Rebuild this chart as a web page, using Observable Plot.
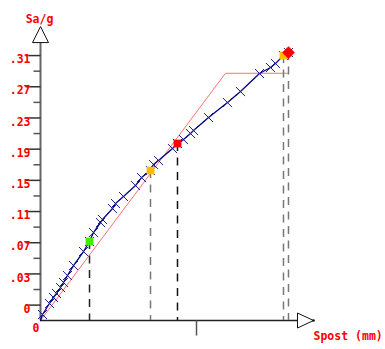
<!DOCTYPE html>
<html><head><meta charset="utf-8">
<script src="https://cdn.jsdelivr.net/npm/d3@7"></script>
<script src="https://cdn.jsdelivr.net/npm/@observablehq/plot@0.6"></script>
<style>body{margin:0;background:#fff;}</style>
</head><body><div id="chart"></div>
<script>
// capacity curve (Spost in mm, Sa/g)
const curveX = [0, 0.77, 3.46, 5.0, 6.15, 7.69, 8.85, 10.38, 12.69, 16.54, 18.85, 20.38, 23.08, 23.85, 27.69, 28.85, 31.92, 36.54, 38.85, 42.31, 43.46, 45.38, 50.77, 52.69, 55.0, 57.69, 58.85, 64.62, 71.92, 76.92, 84.23, 88.46, 90.38, 93.46, 95.38];
const curveY = [0, 0.0070, 0.0199, 0.0269, 0.0316, 0.0386, 0.0445, 0.0526, 0.0643, 0.0807, 0.0924, 0.1029, 0.1146, 0.1182, 0.1310, 0.1369, 0.1451, 0.1579, 0.1673, 0.1755, 0.1825, 0.1872, 0.2012, 0.2071, 0.2117, 0.2188, 0.2223, 0.2375, 0.2550, 0.2679, 0.2890, 0.2960, 0.3007, 0.3100, 0.3135];
// bilinear
const bilinX = [0, 71.15, 95.0];
const bilinY = [0, 0.2893, 0.2893];
// performance points
const pointX = [18.85, 42.31, 52.69, 93.46, 95.38];
const pointY = [0.0924, 0.1755, 0.2071, 0.3100, 0.3135];
const pointColor = ["#3dee00", "#ffbb00", "#ff0000", "#ffbb00", "#ff0000"];
const pointShape = ["square", "square", "square", "square", "diamond2"];
const dropColor = ["#222", "#777", "#111", "#777", "#777"];
// ticks
const yTickValues = [0.31, 0.2735, 0.237, 0.2005, 0.164, 0.1275, 0.091, 0.0545, 0.018];
const yTickLabels = [".31", ".27", ".23", ".19", ".15", ".11", ".07", ".03", "0"];
const yMinorValues = [0.29175, 0.25525, 0.21875, 0.18225, 0.14575, 0.10925, 0.07275, 0.03625];
const xTickValues = [60];
const xLabel = "Spost (mm)";
const yLabel = "Sa/g";
const originLabel = "0";

const xMax = 100, yMax = 0.3335;
const xAxisEnd = 98.85, yAxisEnd = 0.3252;

const curve = curveX.map((x, i) => ({x, y: curveY[i]}));
const bilin = bilinX.map((x, i) => ({x, y: bilinY[i]}));
const pts = pointX.map((x, i) => ({x, y: pointY[i], c: pointColor[i], s: pointShape[i], d: dropColor[i]}));

const font = {fontFamily: "DejaVu Sans Mono", fontWeight: "bold", fontSize: 11.5, fill: "#ff0000"};
const hTickLong = {draw(c) { c.moveTo(-15, 0); c.lineTo(0, 0); }};
const hTickShort = {draw(c) { c.moveTo(-7, 0); c.lineTo(0, 0); }};
const vTick = {draw(c) { c.moveTo(0, 0); c.lineTo(0, 15); }};
const upArrow = {draw(c) { c.moveTo(-8, 0); c.lineTo(8, 0); c.lineTo(0, -16); c.closePath(); }};
const rightArrow = {draw(c) { c.moveTo(0, -7.5); c.lineTo(0, 7.5); c.lineTo(16, 0); c.closePath(); }};

const chart = Plot.plot({
  width: 385, height: 349,
  marginLeft: 40, marginRight: 85, marginTop: 35, marginBottom: 29,
  x: {domain: [0, xMax], axis: null},
  y: {domain: [0, yMax], axis: null},
  style: {background: "white"},
  marks: [
    // axes
    Plot.ruleX([0], {y1: 0, y2: yAxisEnd, stroke: "#666", strokeWidth: 2}),
    Plot.ruleY([0], {x1: 0, x2: xAxisEnd, stroke: "#222", strokeWidth: 1.5}),
    Plot.dot(yTickValues, {x: () => 0, y: d => d, symbol: hTickLong, fill: "none", stroke: "#333", strokeWidth: 1.5}),
    Plot.dot(yMinorValues, {x: () => 0, y: d => d, symbol: hTickShort, fill: "none", stroke: "#555", strokeWidth: 1.5}),
    Plot.dot(xTickValues, {x: d => d, y: () => 0, symbol: vTick, fill: "none", stroke: "#555", strokeWidth: 1.5}),
    Plot.dot([yAxisEnd], {x: () => 0, y: d => d, symbol: upArrow, fill: "white", stroke: "#111", strokeWidth: 1}),
    Plot.dot([xAxisEnd], {x: d => d, y: () => 0, symbol: rightArrow, fill: "white", stroke: "#111", strokeWidth: 1}),
    Plot.dot([xAxisEnd], {x: d => d, y: () => 0, dx: 16, r: 1.3, fill: "#111"}),
    Plot.text(yTickValues, {x: () => 0, y: d => d, text: (d, i) => yTickLabels[i], textAnchor: "end", dx: -10, dy: 4, ...font}),
    Plot.text([yLabel], {frameAnchor: "top-left", dx: -1, dy: -20.5, textAnchor: "middle", ...font}),
    Plot.text([xLabel], {frameAnchor: "bottom-right", dx: 13, dy: 19, textAnchor: "start", ...font}),
    Plot.text([originLabel], {frameAnchor: "bottom-left", dx: -4.5, dy: 11.5, textAnchor: "middle", ...font}),
    // bilinear
    Plot.line(bilin, {x: "x", y: "y", stroke: "#ff7070", strokeWidth: 1}),
    // drop lines
    Plot.ruleX(pts, {x: "x", y1: "y", y2: () => 0, stroke: "d", strokeWidth: 1.5, strokeDasharray: "8,6.5"}),
    // curve
    Plot.line(curve, {x: "x", y: "y", stroke: "#000080", strokeWidth: 1.3}),
    Plot.dot(curve.slice(1), {x: "x", y: "y", symbol: "times", r: 4.2, stroke: "#1c1c8e", strokeWidth: 1}),
    // points
    Plot.dot(pts.filter(d => d.s === "square"), {x: "x", y: "y", symbol: "square", fill: "c", r: 4.4, stroke: "none"}),
    Plot.dot(pts.filter(d => d.s === "diamond2"), {x: "x", y: "y", symbol: "diamond2", fill: "c", r: 5.7, stroke: "none"})
  ]
});
document.getElementById("chart").appendChild(chart);
</script>
</body></html>
